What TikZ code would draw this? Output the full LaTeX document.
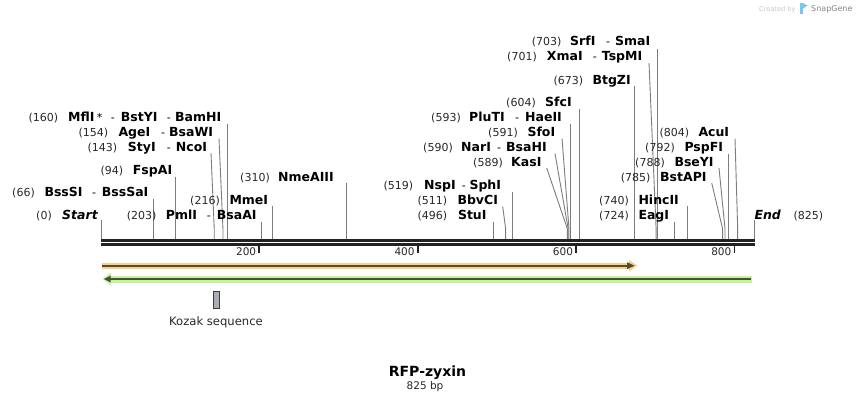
\documentclass[tikz,border=0pt]{standalone}
\usepackage{fontspec}
\setmainfont{DejaVu Sans}
\definecolor{numc}{RGB}{40,40,40}
\definecolor{sitec}{RGB}{125,125,125}
\definecolor{bbc}{RGB}{34,34,34}
\definecolor{orf}{RGB}{251,207,132}
\definecolor{grf}{RGB}{196,245,150}
\definecolor{innr}{RGB}{75,78,62}
\definecolor{kozf}{RGB}{168,173,182}
\definecolor{kozd}{RGB}{60,60,62}
\definecolor{logoc}{RGB}{122,198,238}
\newcommand\VSite[3]{%
  \coordinate (#1t) at ({101+0.7919*#2},#3);
  \coordinate (#1b) at ({101+0.7919*#2},239);
  \draw[siteline] (#1t) -- (#1b);}
\newcommand\SSite[4]{%
  \coordinate (#1t) at (#3,#4);
  \coordinate (#1k) at ({101+0.7919*#2},229);
  \coordinate (#1b) at ({101+0.7919*#2},239);
  \draw[siteline] (#1t) -- (#1k) -- (#1b);}
\begin{document}
\begin{tikzpicture}[x=1pt,y=-1pt,
  num/.style={anchor=base east,inner sep=0pt,font=\fontsize{11}{13}\selectfont,text=numc},
  nm/.style={anchor=base west,inner sep=0pt,font=\fontsize{12.5}{14}\selectfont\bfseries,text=black},
  nmi/.style={anchor=base west,inner sep=0pt,font=\fontsize{12.5}{14}\selectfont\bfseries\itshape,text=black},
  hy/.style={anchor=base west,inner sep=0pt,font=\fontsize{11}{13}\selectfont,text=black},
  siteline/.style={draw=sitec,line width=0.9pt},
  bbline/.style={draw=bbc,line width=3pt},
  tickline/.style={draw=bbc,line width=1.8pt},
  ticklbl/.style={anchor=base east,inner sep=0pt,font=\fontsize{10.5}{12}\selectfont,text=numc},
  innerline/.style={draw=innr,line width=2pt}]
\useasboundingbox (0,0) rectangle (856,402);
\fill[white] (0,0) rectangle (856,402);

% watermark
\node[anchor=base west,inner sep=0pt,font=\fontsize{6.6}{8}\selectfont,text=black!22] (cby) at (759,11) {Created by};
\fill[logoc] (799.5,3) rectangle (802.5,13.5);
\fill[logoc] (802.5,3) -- (807.5,5.5) -- (802.5,9) -- cycle;
\node[anchor=base west,inner sep=0pt,font=\fontsize{8}{10}\selectfont,text=black!48] (sgene) at (811,11.5) {SnapGene};

% site connectors
\VSite{s0}{0}{220}
\VSite{s66}{66}{198.5}
\VSite{s94}{94}{176.5}
\SSite{s143}{143}{211}{153}
\SSite{s154}{154}{219}{138.5}
\VSite{s160}{160}{124}
\VSite{s203}{203}{221.5}
\VSite{s216}{216}{206}
\VSite{s310}{310}{183}
\VSite{s496}{496}{221.5}
\SSite{s511}{511}{502.7}{206.5}
\VSite{s519}{519}{192}
\SSite{s589}{589}{546.7}{168}
\SSite{s590}{590}{555}{153.5}
\SSite{s591}{591}{562}{138.5}
\VSite{s593}{593}{123.5}
\VSite{s604}{604}{108.5}
\VSite{s673}{673}{86}
\SSite{s701}{701}{649}{63}
\VSite{s703}{703}{48.5}
\VSite{s724}{724}{221.5}
\VSite{s740}{740}{206}
\SSite{s785}{785}{711.7}{183}
\SSite{s788}{788}{719}{168}
\VSite{s792}{792}{153.5}
\SSite{s804}{804}{735}{138.5}
\VSite{s825}{825}{220}

% backbone
\coordinate (bbL1) at (101,240.5); \coordinate (bbR1) at (755,240.5);
\coordinate (bbL2) at (101,244.5); \coordinate (bbR2) at (755,244.5);
\draw[bbline] (bbL1) -- (bbR1);
\draw[bbline] (bbL2) -- (bbR2);

% ticks
\foreach \v in {200,400,600,800}{
  \coordinate (tk\v) at ({101+0.7919*\v},245.5);
  \draw[tickline] (tk\v) -- ++(0,7.5);
  \node[ticklbl] (tl\v) at ({101+0.7919*\v-3},255.5) {\v};
}

% labels
\node[num] (n0) at (52,219) {(0)};
\node[nmi] (lStart) at (62,219) {Start};

\node[num] (n66) at (35,196) {(66)};
\node[nm] (lBssSI) at (44.3,196) {BssSI};
\node[hy] (h66) at (92,196) {-};
\node[nm] (lBssSaI) at (101.7,196) {BssSaI};

\node[num] (n94) at (123.3,174) {(94)};
\node[nm] (lFspAI) at (132.7,174) {FspAI};

\node[num] (n143) at (117.3,151) {(143)};
\node[nm] (lStyI) at (127.7,151) {StyI};
\node[hy] (h143) at (166.7,151) {-};
\node[nm] (lNcoI) at (175.7,151) {NcoI};

\node[num] (n154) at (108.3,136) {(154)};
\node[nm] (lAgeI) at (118.3,136) {AgeI};
\node[hy] (h154) at (161,136) {-};
\node[nm] (lBsaWI) at (169,136) {BsaWI};

\node[num] (n160) at (58.3,121) {(160)};
\node[nm] (lMflI) at (68,121) {MflI};
\node[hy,anchor=base west] (ast) at ([xshift=2pt]lMflI.base east) {*};
\node[hy] (h160a) at (110.7,121) {-};
\node[nm] (lBstYI) at (120.7,121) {BstYI};
\node[hy] (h160b) at (166.7,121) {-};
\node[nm] (lBamHI) at (175,121) {BamHI};

\node[num] (n203) at (156.7,219) {(203)};
\node[nm] (lPmlI) at (165.7,219) {PmlI};
\node[hy] (h203) at (206.7,219) {-};
\node[nm] (lBsaAI) at (216.7,219) {BsaAI};

\node[num] (n216) at (220,204) {(216)};
\node[nm] (lMmeI) at (229.3,204) {MmeI};

\node[num] (n310) at (270,181) {(310)};
\node[nm] (lNmeAIII) at (278,181) {NmeAIII};

\node[num] (n519) at (413.3,189) {(519)};
\node[nm] (lNspI) at (424,189) {NspI};
\node[hy] (h519) at (461.7,189) {-};
\node[nm] (lSphI) at (469.3,189) {SphI};

\node[num] (n511) at (447.3,204) {(511)};
\node[nm] (lBbvCI) at (457.3,204) {BbvCI};

\node[num] (n496) at (447.3,219) {(496)};
\node[nm] (lStuI) at (457.8,219) {StuI};

\node[num] (n589) at (503,166) {(589)};
\node[nm] (lKasI) at (511,166) {KasI};

\node[num] (n590) at (453,151) {(590)};
\node[nm] (lNarI) at (461,151) {NarI};
\node[hy] (h590) at (497,151) {-};
\node[nm] (lBsaHI) at (506,151) {BsaHI};

\node[num] (n591) at (518,136) {(591)};
\node[nm] (lSfoI) at (527.3,136) {SfoI};

\node[num] (n593) at (461,121) {(593)};
\node[nm] (lPluTI) at (469,121) {PluTI};
\node[hy] (h593) at (515,121) {-};
\node[nm] (lHaeII) at (525,121) {HaeII};

\node[num] (n604) at (536,106) {(604)};
\node[nm] (lSfcI) at (545,106) {SfcI};

\node[num] (n673) at (583.3,84) {(673)};
\node[nm] (lBtgZI) at (592.3,84) {BtgZI};

\node[num] (n701) at (537,60) {(701)};
\node[nm] (lXmaI) at (546.7,60) {XmaI};
\node[hy] (h701) at (592.7,60) {-};
\node[nm] (lTspMI) at (601.7,60) {TspMI};

\node[num] (n703) at (561.7,45) {(703)};
\node[nm] (lSrfI) at (570,45) {SrfI};
\node[hy] (h703) at (606,45) {-};
\node[nm] (lSmaI) at (615,45) {SmaI};

\node[num] (n724) at (629,219) {(724)};
\node[nm] (lEagI) at (638.3,219) {EagI};

\node[num] (n740) at (629,204) {(740)};
\node[nm] (lHincII) at (638.3,204) {HincII};

\node[num] (n785) at (650.7,181) {(785)};
\node[nm] (lBstAPI) at (660,181) {BstAPI};

\node[num] (n788) at (665,166) {(788)};
\node[nm] (lBseYI) at (674.3,166) {BseYI};

\node[num] (n792) at (675,151) {(792)};
\node[nm] (lPspFI) at (684.3,151) {PspFI};

\node[num] (n804) at (689.3,136) {(804)};
\node[nm] (lAcuI) at (698.3,136) {AcuI};

\node[nmi] (lEnd) at (754.3,219) {End};
\node[num] (n825) at (823.3,219) {(825)};

% features: forward (orange) arrow
\fill[orf] (102,262.7) rectangle (630,268.7);
\fill[orf] (629,259.8) -- (637.3,265.7) -- (629,271.6) -- cycle;
\coordinate (oa) at (102,265.7); \coordinate (ob) at (629,265.7);
\draw[innerline] (oa) -- (ob);
\fill[innr] (627,262.2) -- (634.5,265.7) -- (627,269.2) -- cycle;

% reverse (green) arrow
\fill[grf] (110,275.5) rectangle (752.3,282.5);
\fill[grf] (110.5,272.6) -- (102.7,279) -- (110.5,285.4) -- cycle;
\coordinate (ga) at (751,279); \coordinate (gb) at (109,279);
\draw[innerline] (ga) -- (gb);
\fill[innr] (110.5,275.6) -- (104,279) -- (110.5,282.4) -- cycle;

% Kozak sequence
\node[draw=kozd,fill=kozf,line width=1.1pt,inner sep=0pt,minimum width=6.5pt,minimum height=17.5pt] (kozak) at (216.3,300) {};
\node[anchor=base,inner sep=0pt,font=\fontsize{11.6}{13}\selectfont,text=numc] (kozakl) at (216,325) {Kozak sequence};

% title
\node[anchor=base,inner sep=0pt,font=\fontsize{14}{16}\selectfont\bfseries,text=black] (title) at (427.5,376) {RFP-zyxin};
\node[anchor=base,inner sep=0pt,font=\fontsize{10.5}{12}\selectfont,text=numc] (len) at (425,389.5) {825 bp};
\end{tikzpicture}
\end{document}
